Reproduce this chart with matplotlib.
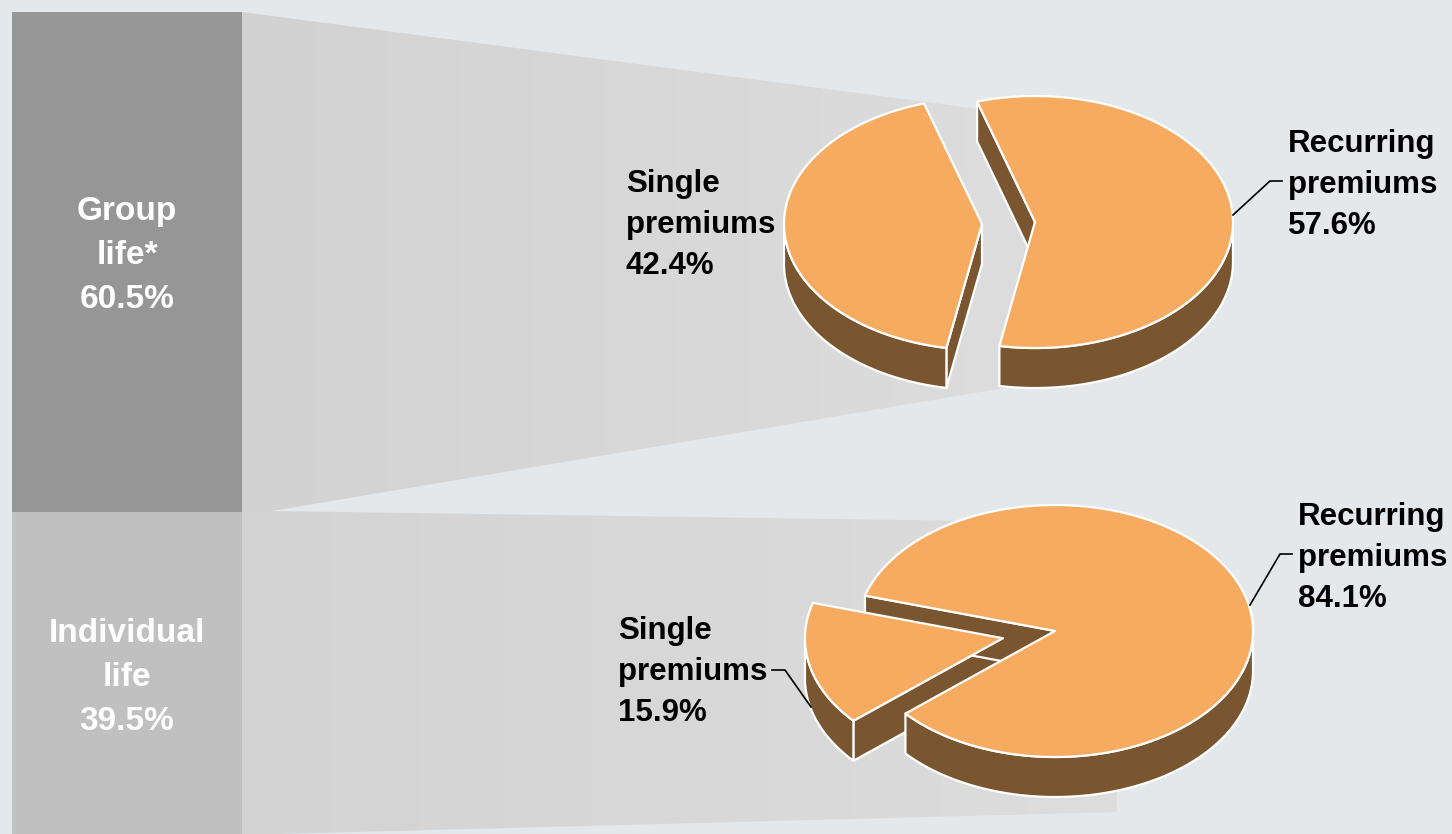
import numpy as np
import matplotlib
matplotlib.use("Agg")
import matplotlib.pyplot as plt
from matplotlib.patches import Polygon

# share of life premiums by business line, and single / recurring split of each
segments = ["Group\nlife*", "Individual\nlife"]
segment_share = [60.5, 39.5]
pie_labels = ["Single\npremiums", "Recurring\npremiums"]
group_split = [42.4, 57.6]
individual_split = [15.9, 84.1]

BG = "#E4E8EB"
TOP = "#F6AB60"
SIDE = "#7A5630"
RX, RY, DEPTH = 198, 126, 40

plt.rcParams["font.family"] = ["Liberation Sans", "DejaVu Sans"]

fig = plt.figure(figsize=(14.52, 8.34), dpi=100)
fig.patch.set_facecolor(BG)
ax = fig.add_axes([0, 0, 1, 1])
ax.set_facecolor(BG)


def gradient_poly(pts, x0, x1, c0, c1):
    poly = Polygon(pts, closed=True, facecolor="none", edgecolor="none")
    ax.add_patch(poly)
    t = np.linspace(0, 1, 256)
    row = np.outer(1 - t, c0) + np.outer(t, c1)
    im = ax.imshow(row[None, :, :] / 255.0, extent=(x0, x1, 840, 0),
                   aspect="auto", interpolation="bilinear", zorder=0.5)
    im.set_clip_path(poly)


# grey "zoom" wedges from the bar to each pie
gradient_poly([(242, 12), (1040, 117), (1040, 382), (272, 511), (242, 516)],
              242, 1040, (210, 210, 210), (221, 221, 221))
gradient_poly([(242, 510.6), (1117, 523), (1117, 812), (242, 835)],
              242, 1117, (211, 211, 211), (221, 221, 221))

# stacked bar, in pixel units
scale = 500 / segment_share[0]
bottom = 12
bar_colors = ["#969696", "#C0C0C0"]
label_base = [220, 642]
for name, share, col, yb in zip(segments, segment_share, bar_colors, label_base):
    ax.bar(127, share * scale, width=230, bottom=bottom, color=col, zorder=1)
    bottom += share * scale
    lines = name.split("\n") + [f"{share}%"]
    for i, s in enumerate(lines):
        ax.text(127, yb + 44 * i, s, ha="center", va="baseline", color="white",
                fontsize=24, fontweight="bold", zorder=5)


def rim(c, a, dz=0):
    a = np.radians(a)
    return np.column_stack([c[0] + RX * np.cos(a), c[1] - RY * np.sin(a) + dz])


def draw_pie(cx, cy, values, start, explode):
    faces, walls, tops = [], [], []
    a0 = start
    for v, e in zip(values, explode):
        a1 = a0 + v * 3.6
        mid = np.radians((a0 + a1) / 2)
        c = (cx + RX * e * np.cos(mid), cy - RY * e * np.sin(mid))
        arc = rim(c, np.linspace(a0, a1, 200))
        tops.append(np.vstack([[c], arc]))
        # front part of the outer wall
        for k in range(-1, 3):
            s, t = max(a0, 180 + 360 * k), min(a1, 360 + 360 * k)
            if t > s:
                aa = np.linspace(s, t, 150)
                walls.append(np.vstack([rim(c, aa), rim(c, aa[::-1], DEPTH)]))
        # radial cut faces facing the viewer
        for ang, sign in ((a0, 1), (a1, -1)):
            if sign * np.cos(np.radians(ang)) > 0:
                p = rim(c, [ang])[0]
                faces.append([c, p, (p[0], p[1] + DEPTH), (c[0], c[1] + DEPTH)])
        a0 = a1
    for pts in faces + walls:
        ax.add_patch(Polygon(pts, closed=True, facecolor=SIDE, edgecolor="white",
                             lw=1.6, joinstyle="round", zorder=2))
    for pts in tops:
        ax.add_patch(Polygon(pts, closed=True, facecolor=TOP, edgecolor="white",
                             lw=1.6, joinstyle="round", zorder=3))


draw_pie(1008.5, 223, group_split, 107, [0.134, 0.134])
draw_pie(1055, 631, individual_split, 163.7, [0.269, 0.0])


def pie_label(x, yb, label, value):
    for i, s in enumerate(label.split("\n") + [f"{value}%"]):
        ax.text(x, yb + 41 * i, s, ha="left", va="baseline", color="black",
                fontsize=22.5, fontweight="bold", zorder=5)


pie_label(626, 192, pie_labels[0], group_split[0])
pie_label(1288, 152, pie_labels[1], group_split[1])
pie_label(618, 639, pie_labels[0], individual_split[0])
pie_label(1298, 525, pie_labels[1], individual_split[1])

# leader lines
for xs, ys in [([1233, 1270, 1282], [215, 181, 181]),
               ([1250, 1280, 1292], [605, 554, 554]),
               ([772, 785, 811], [670, 670, 707])]:
    ax.plot(xs, ys, color="black", lw=1.2, zorder=4)

ax.set_xlim(0, 1452)
ax.set_ylim(834, 0)
ax.axis("off")
fig.savefig("out.png", dpi=100, facecolor=BG)
